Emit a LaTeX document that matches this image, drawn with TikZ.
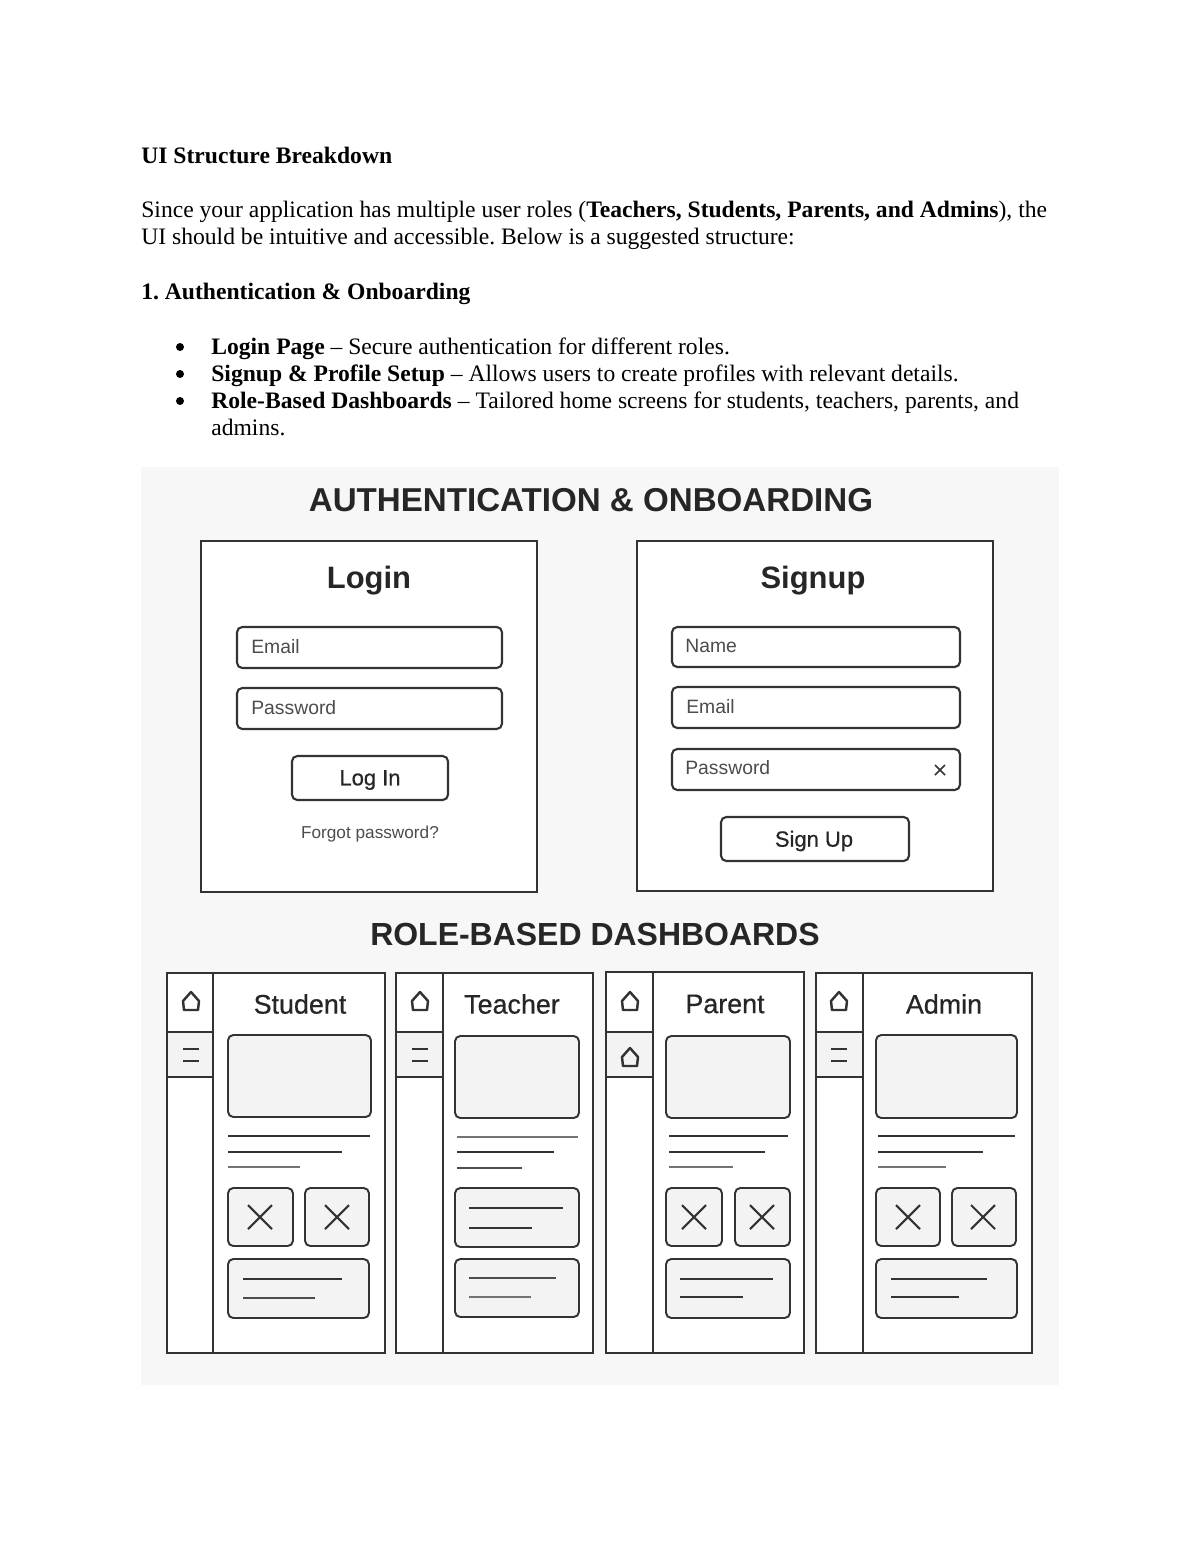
\documentclass[tikz,border=0pt]{standalone}
\usepackage{fontspec}
\setmainfont{Liberation Serif}
\newfontfamily\uifont{Liberation Sans}
\newfontfamily\uimedium[FakeBold=0.6]{Liberation Sans}
\usepackage{xcolor}
\usepackage{tikz}
\definecolor{panelgrey}{HTML}{F7F7F7}
\definecolor{boxgrey}{HTML}{F3F3F3}
\definecolor{inkgrey}{HTML}{333333}
\tikzset{
  bodytext/.style={anchor=base west,inner sep=0pt,font=\fontsize{13.43}{16}\selectfont},
  bulletdot/.style={circle,fill=black,inner sep=0pt,minimum size=0.16cm},
  bigtitle/.style={anchor=center,inner sep=0pt,text=black!85,font=\uifont\bfseries\fontsize{18.85}{22}\selectfont},
  dashtitle/.style={anchor=center,inner sep=0pt,text=black!85,font=\uifont\bfseries\fontsize{18.2}{22}\selectfont},
  formtitle/.style={anchor=center,inner sep=0pt,text=black!85,font=\uifont\bfseries\fontsize{17.6}{22}\selectfont},
  roletitle/.style={anchor=center,inner sep=0pt,text=black!85,font=\uimedium\fontsize{15.3}{18}\selectfont},
  fieldtext/.style={anchor=west,inner sep=0pt,text=black!70,font=\uifont\fontsize{11}{13}\selectfont},
  smalltext/.style={anchor=center,inner sep=0pt,text=black!70,font=\uifont\fontsize{9.8}{12}\selectfont},
  btntext/.style={anchor=center,inner sep=0pt,text=black!85,font=\uimedium\fontsize{12.5}{15}\selectfont},
  frame/.style={draw=inkgrey,line width=1.3pt,fill=white},
  field/.style={draw=inkgrey,line width=1.2pt,fill=white,rounded corners=3pt},
  greybox/.style={draw=inkgrey,line width=1.1pt,fill=boxgrey,rounded corners=3pt},
  textline/.style={draw=inkgrey,line width=1pt},
  thinline/.style={draw=black!55,line width=0.7pt},
  homeicon/.pic={\draw[inkgrey,line width=1.4pt,line join=round] (-8,-1)--(0,-10)--(8,-1)--(7,8)--(-7,8)--cycle;},
  menuicon/.pic={\draw[inkgrey,line width=1.3pt] (-8,-6)--(8,-6) (-8,6)--(8,6);},
  crossicon/.pic={\draw[inkgrey,line width=1.2pt] (-12,-12)--(12,12) (-12,12)--(12,-12);}
}
\begin{document}
\begin{tikzpicture}[x=0.02cm,y=-0.02cm]
\frenchspacing
\useasboundingbox (0,0) rectangle (1200,1553);
\fill[white] (0,0) rectangle (1200,1553);
% text at the top
\node[bodytext] (head) at (141,163) {\textbf{UI Structure Breakdown}};
\node[bodytext] (introa) at (141,217) {Since your application has multiple user roles (\textbf{Teachers, Students, Parents, and Admins}), the};
\node[bodytext] (introb) at (141,244) {UI should be intuitive and accessible. Below is a suggested structure:};
\node[bodytext] (sect) at (141,299) {\textbf{1. Authentication \& Onboarding}};
\node[bulletdot] (bula) at (180,347) {};
\node[bulletdot] (bulb) at (180,374) {};
\node[bulletdot] (bulc) at (180,401) {};
\node[bodytext] (itema) at (211,354) {\textbf{Login Page} -- Secure authentication for different roles.};
\node[bodytext] (itemb) at (211,381) {\textbf{Signup \& Profile Setup} -- Allows users to create profiles with relevant details.};
\node[bodytext] (itemc) at (211,408) {\textbf{Role-Based Dashboards} -- Tailored home screens for students, teachers, parents, and};
\node[bodytext] (itemd) at (211,435) {admins.};
% grey panel
\fill[panelgrey] (141,467) rectangle (1059,1385);
\node[bigtitle] (authtitle) at (591,500) {AUTHENTICATION \& ONBOARDING};
\node[dashtitle] (roletitle) at (595,934) {ROLE-BASED DASHBOARDS};
% login
\draw[frame] (201,541) rectangle (537,892);
\node[formtitle] (login) at (369,581) {Login};
\draw[field] (237,627) rectangle (502,668);
\node[fieldtext] (loginemail) at (251,647) {Email};
\draw[field] (237,688) rectangle (502,729);
\node[fieldtext] (loginpass) at (251,708) {Password};
\draw[field] (292,756) rectangle (448,800);
\node[btntext] (loginbtn) at (370,780) {Log In};
\node[smalltext] (forgot) at (370,834) {Forgot password?};
% signup
\draw[frame] (637,541) rectangle (993,891);
\node[formtitle] (signup) at (813,581) {Signup};
\draw[field] (672,627) rectangle (960,667);
\node[fieldtext] (signname) at (685,646) {Name};
\draw[field] (672,687) rectangle (960,728);
\node[fieldtext] (signemail) at (686,707) {Email};
\draw[field] (672,749) rectangle (960,790);
\node[fieldtext] (signpass) at (685,768) {Password};
\draw[inkgrey,line width=0.9pt] (935,765)--(945,775) (935,775)--(945,765);
\draw[field] (721,817) rectangle (909,861);
\node[btntext] (signbtn) at (814,841) {Sign Up};
% student
\draw[frame] (167,973) rectangle (385,1353);
\draw[greybox,rounded corners=0pt] (167,1032) rectangle (213,1077);
\draw[inkgrey,line width=1.3pt] (213,973)--(213,1353);
\pic at (191,1002) {homeicon};
\pic at (191,1055) {menuicon};
\node[roletitle] (student) at (300,1004) {Student};
\draw[greybox] (228,1035) rectangle (371,1117);
\draw[textline,line width=1.2pt] (228,1136)--(370,1136);
\draw[textline] (228,1152)--(342,1152);
\draw[thinline] (228,1167)--(300,1167);
\draw[greybox] (228,1188) rectangle (293,1246);
\draw[greybox] (305,1188) rectangle (369,1246);
\pic at (260,1217) {crossicon};
\pic at (337,1217) {crossicon};
\draw[greybox] (228,1259) rectangle (369,1318);
\draw[textline] (243,1279)--(342,1279);
\draw[textline,line width=1.3pt,draw=black!70] (243,1298)--(315,1298);
% teacher
\draw[frame] (396,973) rectangle (593,1353);
\draw[greybox,rounded corners=0pt] (396,1032) rectangle (443,1077);
\draw[inkgrey,line width=1.3pt] (443,973)--(443,1353);
\pic at (420,1002) {homeicon};
\pic at (420,1055) {menuicon};
\node[roletitle] (teacher) at (512,1004) {Teacher};
\draw[greybox] (455,1036) rectangle (579,1118);
\draw[thinline] (457,1137)--(578,1137);
\draw[textline] (457,1152)--(554,1152);
\draw[textline,line width=1.4pt,draw=black!70] (457,1168)--(522,1168);
\draw[greybox] (455,1188) rectangle (579,1247);
\draw[textline] (469,1208)--(563,1208);
\draw[textline] (469,1228)--(532,1228);
\draw[greybox] (455,1259) rectangle (579,1317);
\draw[textline,line width=1.4pt,draw=black!70] (469,1278)--(556,1278);
\draw[thinline] (469,1297)--(531,1297);
% parent
\draw[frame] (606,972) rectangle (804,1353);
\draw[greybox,rounded corners=0pt] (606,1032) rectangle (653,1077);
\draw[inkgrey,line width=1.3pt] (653,972)--(653,1353);
\pic at (630,1002) {homeicon};
\pic at (630,1058) {homeicon};
\node[roletitle] (parent) at (725,1004) {Parent};
\draw[greybox] (666,1036) rectangle (790,1118);
\draw[textline] (669,1136)--(788,1136);
\draw[textline] (669,1152)--(765,1152);
\draw[thinline] (669,1167)--(733,1167);
\draw[greybox] (666,1188) rectangle (722,1246);
\draw[greybox] (735,1188) rectangle (790,1246);
\pic at (694,1217) {crossicon};
\pic at (762,1217) {crossicon};
\draw[greybox] (666,1259) rectangle (790,1318);
\draw[textline] (680,1279)--(773,1279);
\draw[textline] (680,1297)--(743,1297);
% admin
\draw[frame] (816,973) rectangle (1032,1353);
\draw[greybox,rounded corners=0pt] (816,1032) rectangle (863,1077);
\draw[inkgrey,line width=1.3pt] (863,973)--(863,1353);
\pic at (839,1002) {homeicon};
\pic at (839,1055) {menuicon};
\node[roletitle] (admin) at (944,1004) {Admin};
\draw[greybox] (876,1035) rectangle (1017,1118);
\draw[textline,line width=1.2pt] (878,1136)--(1015,1136);
\draw[textline] (878,1152)--(983,1152);
\draw[thinline] (878,1167)--(946,1167);
\draw[greybox] (876,1188) rectangle (940,1246);
\draw[greybox] (952,1188) rectangle (1016,1246);
\pic at (908,1217) {crossicon};
\pic at (983,1217) {crossicon};
\draw[greybox] (876,1259) rectangle (1017,1318);
\draw[textline] (891,1279)--(987,1279);
\draw[textline] (891,1297)--(959,1297);
\end{tikzpicture}
\end{document}
